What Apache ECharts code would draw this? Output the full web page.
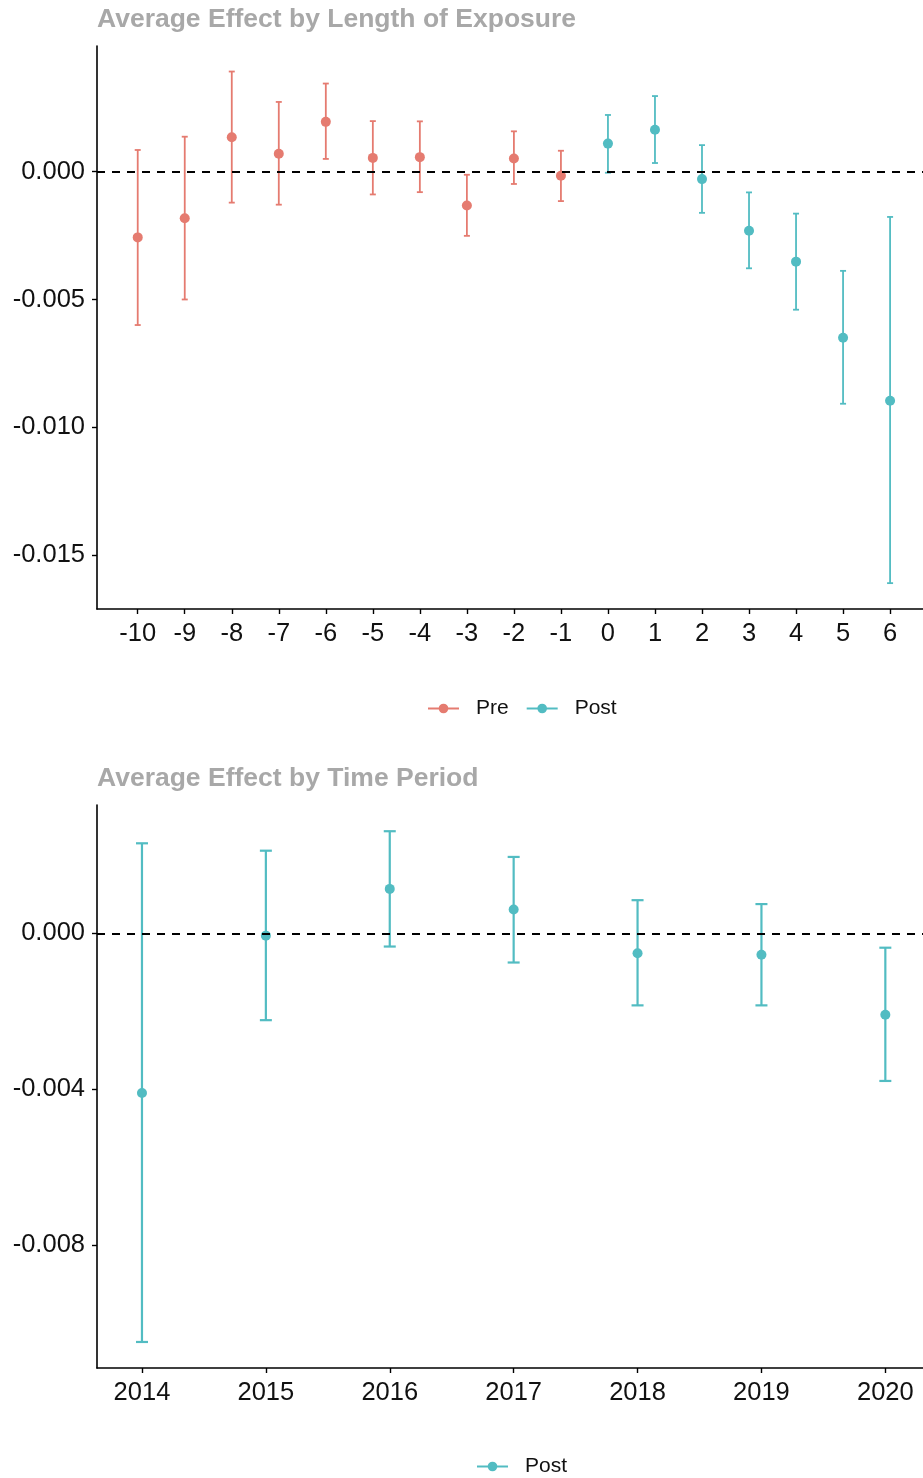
<!DOCTYPE html>
<html>
<head>
<meta charset="utf-8">
<title>Average Effect</title>
<script src="https://cdn.jsdelivr.net/npm/echarts@6/dist/echarts.min.js"></script>
<style>
  html, body { margin: 0; padding: 0; background: #fff; }
  #chart { width: 923px; height: 1478px; }
</style>
</head>
<body>
<div id="chart"></div>
<script>
// Event-study estimates by length of exposure (relative period)
const exposurePeriods = [-10, -9, -8, -7, -6, -5, -4, -3, -2, -1, 0, 1, 2, 3, 4, 5, 6];
const exposureEstimate = [-0.00257, -0.00182, 0.00135, 0.00070, 0.00195, 0.00054, 0.00057, -0.00132, 0.00052, -0.00016,
                          0.00110, 0.00164, -0.00029, -0.00231, -0.00352, -0.00650, -0.00896];
const exposureLower = [-0.00600, -0.00500, -0.00121, -0.00129, 0.00050, -0.00089, -0.00080, -0.00251, -0.00048, -0.00115,
                       -0.00004, 0.00034, -0.00161, -0.00378, -0.00540, -0.00908, -0.01610];
const exposureUpper = [0.00085, 0.00137, 0.00392, 0.00273, 0.00345, 0.00198, 0.00197, -0.00012, 0.00158, 0.00082,
                       0.00222, 0.00296, 0.00104, -0.00081, -0.00164, -0.00388, -0.00177];

// Estimates by calendar year
const years = [2014, 2015, 2016, 2017, 2018, 2019, 2020];
const yearEstimate = [-0.00410, -0.00006, 0.00114, 0.00061, -0.00051, -0.00055, -0.00209];
const yearLower = [-0.01049, -0.00223, -0.00034, -0.00075, -0.00185, -0.00185, -0.00379];
const yearUpper = [0.00231, 0.00212, 0.00262, 0.00196, 0.00085, 0.00075, -0.00037];

// Tick labels on the y axes
const exposureYTicks = [-0.015, -0.010, -0.005, 0.000];
const yearYTicks = [-0.008, -0.004, 0.000];

const PRE_COLOR = '#E57B70';
const POST_COLOR = '#52BCC2';
const FONT = 'Liberation Sans, Arial, sans-serif';
const TICK_FONT_SIZE = 25.5;

const chart = echarts.init(document.getElementById('chart'), null, { renderer: 'canvas' });

function errorBarRenderer(color, capHalf, width) {
  return function (params, api) {
    const x = api.value(0);
    const top = api.coord([x, api.value(2)]);
    const bot = api.coord([x, api.value(1)]);
    const style = { stroke: color, lineWidth: width, fill: null };
    return {
      type: 'group',
      children: [
        { type: 'line', shape: { x1: top[0], y1: top[1], x2: bot[0], y2: bot[1] }, style: style },
        { type: 'line', shape: { x1: top[0] - capHalf, y1: top[1], x2: top[0] + capHalf, y2: top[1] }, style: style },
        { type: 'line', shape: { x1: bot[0] - capHalf, y1: bot[1], x2: bot[0] + capHalf, y2: bot[1] }, style: style }
      ]
    };
  };
}

// split the exposure periods into pre/post treatment
const preIdx = [], postIdx = [];
exposurePeriods.forEach((p, i) => (p < 0 ? preIdx : postIdx).push(i));
const pts = (idx) => idx.map(i => [exposurePeriods[i], exposureEstimate[i]]);
const bars = (idx) => idx.map(i => [exposurePeriods[i], exposureLower[i], exposureUpper[i]]);

const zeroLine = {
  silent: true,
  symbol: ['none', 'none'],
  label: { show: false },
  lineStyle: { color: '#000', type: [8, 7], width: 2 },
  data: [{ yAxis: 0 }]
};

const axisCommon = {
  axisLine: { show: true, onZero: false, lineStyle: { color: '#000', width: 1.6 } },
  axisTick: { show: true, length: 5, lineStyle: { color: '#000', width: 1.4 } },
  splitLine: { show: false }
};

const tickLabel = (values, fmt) => ({
  customValues: values, fontFamily: FONT, fontSize: TICK_FONT_SIZE, color: '#111', margin: 12, formatter: fmt
});

const titleStyle = { fontFamily: FONT, fontSize: 26.5, fontWeight: 'bold', color: '#A8A8A8' };
const legendText = { fontFamily: FONT, fontSize: 21, color: '#111', padding: [0, 0, 0, 12] };

const option = {
  animation: false,
  backgroundColor: '#fff',
  title: [
    { text: 'Average Effect by Length of Exposure', left: 97, top: 6, padding: 0, textStyle: titleStyle },
    { text: 'Average Effect by Time Period', left: 97, top: 765, padding: 0, textStyle: titleStyle }
  ],
  legend: [
    { data: ['Pre', 'Post'], left: 427, top: 698, padding: 0, itemWidth: 31, itemHeight: 12, itemGap: 17,
      lineStyle: { opacity: 1, width: 2 }, textStyle: legendText },
    { data: ['Post '], left: 476, top: 1456, padding: 0, itemWidth: 31, itemHeight: 12,
      lineStyle: { opacity: 1, width: 2 }, textStyle: legendText }
  ],
  grid: [
    { left: 97, right: 0, top: 46, height: 563 },
    { left: 97, right: 0, top: 805, height: 563 }
  ],
  xAxis: [
    Object.assign({}, axisCommon, {
      type: 'value', gridIndex: 0, min: -10.866, max: 6.70,
      axisTick: Object.assign({}, axisCommon.axisTick, { customValues: exposurePeriods }),
      axisLabel: tickLabel(exposurePeriods, v => String(v))
    }),
    Object.assign({}, axisCommon, {
      type: 'value', gridIndex: 1, min: 2013.637, max: 2020.304,
      axisTick: Object.assign({}, axisCommon.axisTick, { customValues: years }),
      axisLabel: tickLabel(years, v => String(v))
    })
  ],
  yAxis: [
    Object.assign({}, axisCommon, {
      type: 'value', gridIndex: 0, min: -0.017112, max: 0.004919,
      axisTick: Object.assign({}, axisCommon.axisTick, { customValues: exposureYTicks }),
      axisLabel: tickLabel(exposureYTicks, v => v.toFixed(3))
    }),
    Object.assign({}, axisCommon, {
      type: 'value', gridIndex: 1, min: -0.011158, max: 0.003293,
      axisTick: Object.assign({}, axisCommon.axisTick, { customValues: yearYTicks }),
      axisLabel: tickLabel(yearYTicks, v => v.toFixed(3))
    })
  ],
  series: [
    // top panel: confidence intervals
    { name: 'Pre interval', type: 'custom', xAxisIndex: 0, yAxisIndex: 0,
      renderItem: errorBarRenderer(PRE_COLOR, 3, 1.8), data: bars(preIdx), z: 2,
      encode: { x: 0, y: [1, 2] } },
    { name: 'Post interval', type: 'custom', xAxisIndex: 0, yAxisIndex: 0,
      renderItem: errorBarRenderer(POST_COLOR, 3, 1.8), data: bars(postIdx), z: 2,
      encode: { x: 0, y: [1, 2] } },
    // top panel: point estimates
    { name: 'Pre', type: 'line', xAxisIndex: 0, yAxisIndex: 0, data: pts(preIdx),
      symbol: 'circle', symbolSize: 10, showSymbol: true, z: 4,
      itemStyle: { color: PRE_COLOR }, lineStyle: { color: PRE_COLOR, opacity: 0 },
      markLine: zeroLine },
    { name: 'Post', type: 'line', xAxisIndex: 0, yAxisIndex: 0, data: pts(postIdx),
      symbol: 'circle', symbolSize: 10, showSymbol: true, z: 4,
      itemStyle: { color: POST_COLOR }, lineStyle: { color: POST_COLOR, opacity: 0 } },
    // bottom panel
    { name: 'Year interval', type: 'custom', xAxisIndex: 1, yAxisIndex: 1,
      renderItem: errorBarRenderer(POST_COLOR, 6, 2.2),
      data: years.map((y, i) => [y, yearLower[i], yearUpper[i]]), z: 2,
      encode: { x: 0, y: [1, 2] } },
    { name: 'Post ', type: 'line', xAxisIndex: 1, yAxisIndex: 1,
      data: years.map((y, i) => [y, yearEstimate[i]]),
      symbol: 'circle', symbolSize: 10, showSymbol: true, z: 4,
      itemStyle: { color: POST_COLOR }, lineStyle: { color: POST_COLOR, opacity: 0 },
      markLine: zeroLine }
  ]
};

chart.setOption(option);
</script>
</body>
</html>
